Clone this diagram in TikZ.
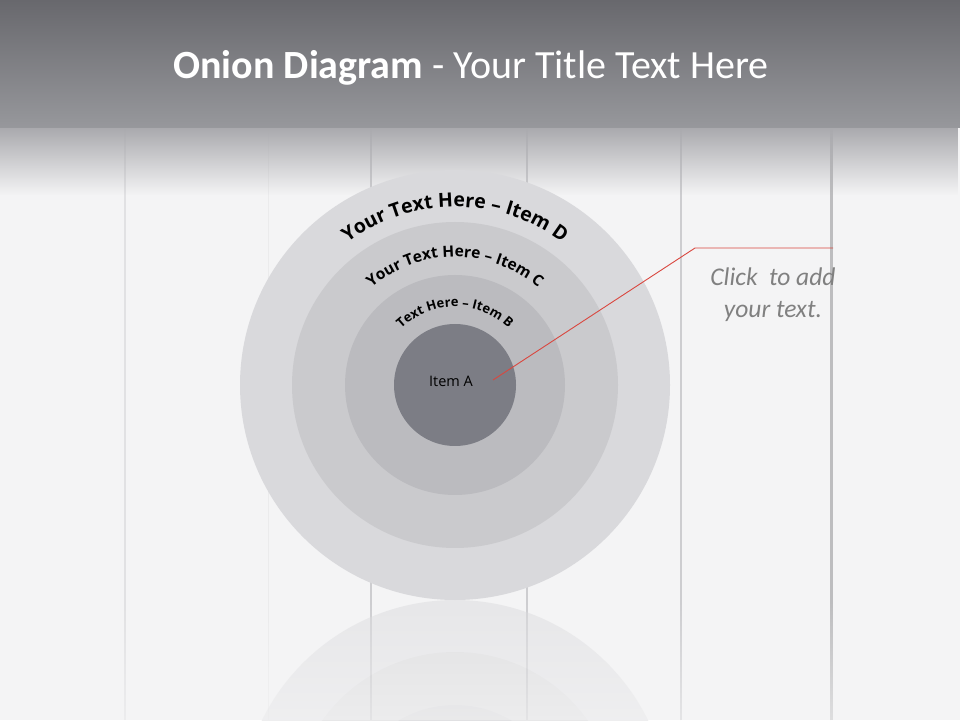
\documentclass[tikz,border=0pt]{standalone}
\usepackage{fontspec}
\usepackage{tikz}
\usetikzlibrary{decorations.text,fadings}

\newfontfamily\titlefont{Carlito}
\newfontfamily\arcfont{Open Sans}

\definecolor{ringD}{HTML}{D9D9DC}
\definecolor{ringC}{HTML}{CACACD}
\definecolor{ringB}{HTML}{BBBBBF}
\definecolor{ringA}{HTML}{7C7D85}
\definecolor{barTop}{HTML}{68686D}
\definecolor{barBot}{HTML}{97989C}
\definecolor{plank}{HTML}{F4F4F5}
\definecolor{seam}{HTML}{CDCDD0}
\definecolor{notegray}{HTML}{808080}
\definecolor{callred}{HTML}{D9473F}

\tikzfading[name=fade down, top color=transparent!0, bottom color=transparent!100]
\tikzfading[name=fade up, top color=transparent!100, bottom color=transparent!0]

\begin{document}
\begin{tikzpicture}[x=1pt,y=1pt]
\useasboundingbox (0,0) rectangle (960,720);

% wooden background
\fill [plank] (0,0) rectangle (960,720);

  % plank seams
\draw [seam!60, line width=1.5pt] (125,0)--(125,592);
\draw [seam, line width=1.5pt] (371,0)--(371,592);
\draw [seam, line width=1.5pt] (527,0)--(527,592);
\draw [seam, line width=2pt] (681,0)--(681,592);
\draw [seam!92!black, line width=3pt] (831,0)--(831,592);
\draw [seam!40, line width=1pt] (268,0)--(268,592);

% title bar
\shade [top color=barTop, bottom color=barBot] (0,592) rectangle (960,720);
\fill [barBot!80!plank, path fading=fade down] (0,525) rectangle (960,592);

\node (title) at (471,652) {\titlefont\fontsize{40}{48}\selectfont\color{white}%
  \bfseries Onion Diagram\mdseries{} - Your Title Text Here};

% reflection of the onion, mirrored about y=120
\begin{scope}
\clip (0,0) rectangle (960,120);
\begin{scope}[opacity=0.45, transparency group]
\fill [ringD] (455,-95) circle (215);
\fill [ringC] (455,-95) circle (163);
\fill [ringB] (455,-95) circle (110);
\end{scope}
\fill [plank, path fading=fade up, opacity=0.6] (0,0) rectangle (960,120);
\end{scope}

% the onion rings, center (455,335)
\fill [ringD] (455,335) circle (215);
\fill [ringC] (455,335) circle (163);
\fill [ringB] (455,335) circle (110);
\fill [ringA] (455,335) circle (61);

  % curved labels
\path [decorate, decoration={text along path, text align=center,
  text format delimiters={|}{|},
  text={|\arcfont\bfseries\fontsize{19.5}{22}\selectfont|Your Text Here – Item D}}]
  (455,335) ++(160:178) arc [start angle=160, end angle=20, radius=178];
\path [decorate, decoration={text along path, text align=center,
  text format delimiters={|}{|},
  text={|\arcfont\bfseries\fontsize{15.5}{18}\selectfont|Your Text Here – Item C}}]
  (455,335) ++(170:128) arc [start angle=170, end angle=10, radius=128];
\path [decorate, decoration={text along path, text align=center,
  text format delimiters={|}{|},
  text={|\arcfont\bfseries\fontsize{13}{15}\selectfont|Text Here – Item B}}]
  (455,335) ++(175:78) arc [start angle=175, end angle=5, radius=78];

\node (itemA) [font=\arcfont\fontsize{14.5}{17}\selectfont, text=black] at (451,339) {Item A};

% callout
\coordinate (tipA) at (493,340);
\coordinate (bend) at (695,472);
\coordinate (lineend) at (833,472);
\draw [callred, line width=0.9pt] (tipA)--(bend)--(lineend);

\node (note) [align=center, text=notegray, font=\titlefont\itshape\fontsize{25.5}{32}\selectfont]
  at (773,425) {Click\ \ to add\\your text.};

\end{tikzpicture}
\end{document}
